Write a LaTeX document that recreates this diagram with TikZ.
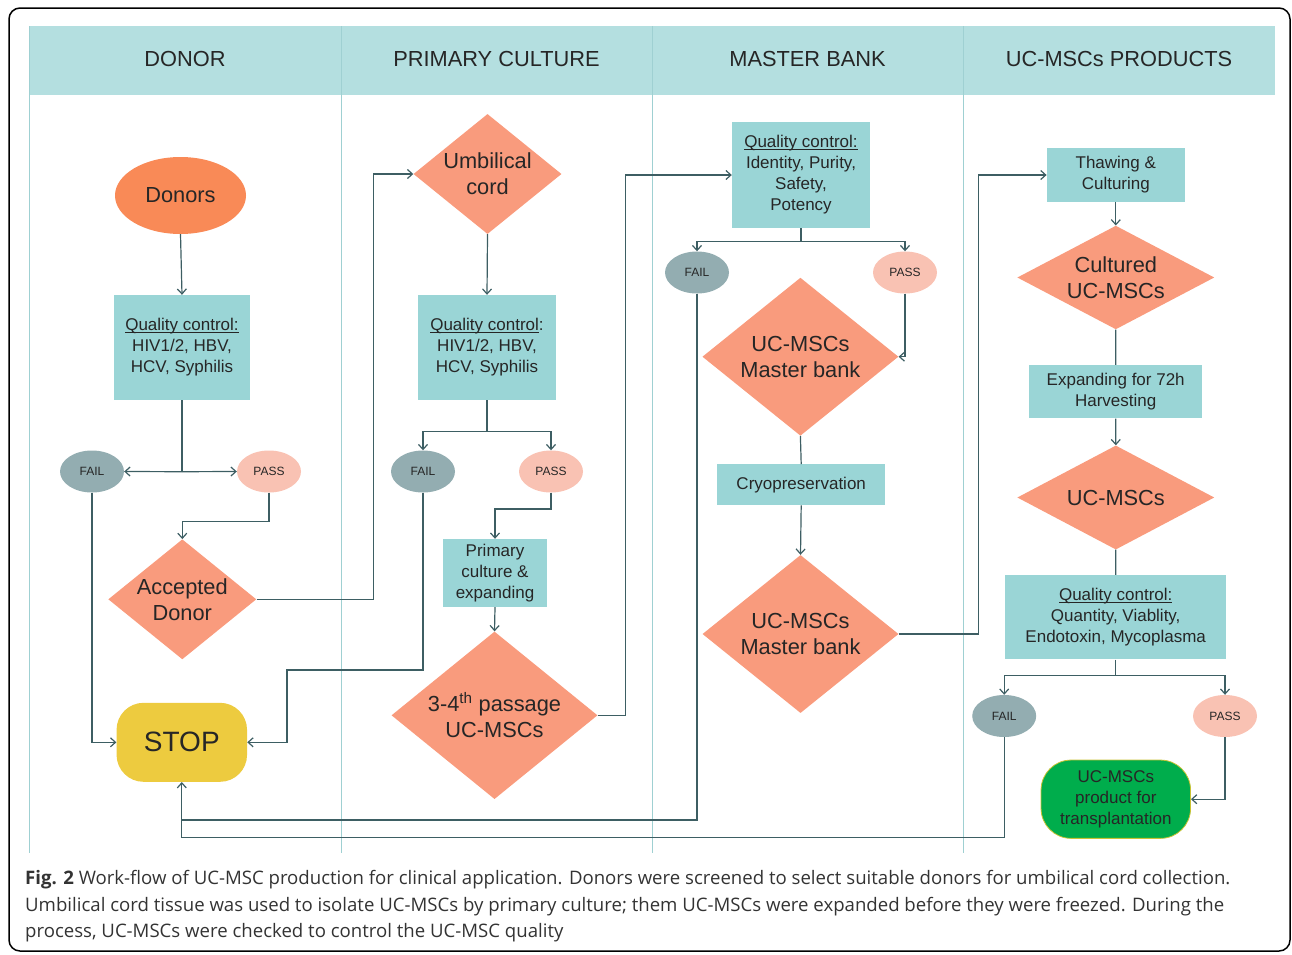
\documentclass[tikz,border=0pt]{standalone}
\usepackage{fontspec}
\setmainfont{Liberation Sans}
\newfontfamily\capfont{Open Sans}
\usetikzlibrary{shapes.geometric,arrows.meta}
\definecolor{hdrc}{HTML}{B4DFE0}
\definecolor{boxc}{HTML}{9AD5D6}
\definecolor{diac}{HTML}{F99B7D}
\definecolor{donc}{HTML}{F98A57}
\definecolor{failc}{HTML}{93ADB1}
\definecolor{passc}{HTML}{F9C2B3}
\definecolor{stopc}{HTML}{EDCB3F}
\definecolor{prodc}{HTML}{00AD4C}
\definecolor{prodb}{HTML}{C9C233}
\definecolor{lc}{HTML}{3D5E63}
\definecolor{colc}{HTML}{9FD0D2}
\definecolor{txt}{HTML}{262626}
\definecolor{captxt}{HTML}{333333}
\newcommand\ulc[1]{\setbox0\hbox{#1}\rlap{\rule[-2.3pt]{\wd0}{0.9pt}}\box0}
\tikzset{
  conn/.style={draw=lc, line width=1.2pt},
  arr/.style={conn, -{Straight Barb[length=5pt,width=9pt]}},
  box/.style={rectangle, fill=boxc, inner sep=0pt, align=center, text=txt, font=\fontsize{17}{21}\selectfont},
  dia/.style={diamond, fill=diac, inner sep=0pt},
  dtext/.style={align=center, text=txt, font=\fontsize{21.8}{26}\selectfont},
  failn/.style={ellipse, fill=failc, minimum width=64pt, minimum height=42pt, inner sep=0pt, text=txt, font=\fontsize{12}{12}\selectfont},
  passn/.style={ellipse, fill=passc, minimum width=64pt, minimum height=42pt, inner sep=0pt, text=txt, font=\fontsize{12}{12}\selectfont},
  hdr/.style={text=txt, font=\fontsize{21.8}{26}\selectfont},
  colline/.style={draw=colc, line width=0.9pt}
}
\begin{document}
\begin{tikzpicture}[x=1pt,y=-1pt]
\useasboundingbox (0,0) rectangle (1292,954);
% frame
\draw[black, line width=1.5pt, rounded corners=11pt] (9,8) rectangle (1290,951);
% header band and lanes
\fill[hdrc] (29,26) rectangle (1275,95);
\foreach \xx in {29,341,652,963} \draw[colline] (\xx,26) -- (\xx,853);
\node[hdr] (h1) at (185,59) {DONOR};
\node[hdr] (h2) at (496.5,59) {PRIMARY CULTURE};
\node[hdr] (h3) at (807.5,59) {MASTER BANK};
\node[hdr] (h4) at (1119,59) {UC-MSCs PRODUCTS};

% column 1
\node[ellipse, fill=donc, minimum width=131pt, minimum height=77pt, inner sep=0pt, text=txt, font=\fontsize{21.8}{26}\selectfont] (donors) at (180.5,195.5) {Donors};
\node[box, minimum width=136pt, minimum height=105pt] (qc1) at (182,347.5) {\ulc{Quality control:}\\HIV1/2, HBV,\\HCV, Syphilis};
\node[failn] (fail1) at (92,471.5) {FAIL};
\node[passn] (pass1) at (269,471.5) {PASS};
\node[dia, minimum width=148pt, minimum height=120pt] (acc) at (182.3,599.3) {};
\node[dtext] (acct) at (acc.center) {Accepted\\Donor};
\node[rectangle, rounded corners=27pt, fill=stopc, minimum width=130.5pt, minimum height=79pt, inner sep=0pt, text=txt, font=\fontsize{28}{30}\selectfont] (stop) at (181.8,742.3) {STOP};

% column 2
\node[dia, minimum width=148pt, minimum height=120pt] (umb) at (487.5,174) {};
\node[dtext] (umbt) at (umb.center) {Umbilical\\cord};
\node[box, minimum width=138pt, minimum height=105pt] (qc2) at (487,347.5) {\ulc{Quality control}:\\HIV1/2, HBV,\\HCV, Syphilis};
\node[failn] (fail2) at (423,471.5) {FAIL};
\node[passn] (pass2) at (551,471.5) {PASS};
\node[box, minimum width=104pt, minimum height=68pt] (prim) at (495,573) {Primary\\culture \&\\expanding};
\node[dia, minimum width=206pt, minimum height=167.5pt] (p34) at (494.5,715.3) {};
\node[dtext] (p34t) at (p34.center) {3-4\textsuperscript{th} passage\\UC-MSCs};

% column 3
\node[box, minimum width=138pt, minimum height=106pt] (qc3) at (801,175) {\ulc{Quality control:}\\Identity, Purity,\\Safety,\\Potency};
\node[failn] (fail3) at (697,272.5) {FAIL};
\node[passn] (pass3) at (905,272.5) {PASS};
\node[dia, minimum width=196pt, minimum height=158pt] (mb1) at (800.4,356.7) {};
\node[dtext] (mb1t) at (mb1.center) {UC-MSCs\\Master bank};
\node[box, minimum width=167.7pt, minimum height=40.7pt] (cryo) at (801.2,484.7) {Cryopreservation};
\node[dia, minimum width=196pt, minimum height=158pt] (mb2) at (800.5,634) {};
\node[dtext] (mb2t) at (mb2.center) {UC-MSCs\\Master bank};

% column 4
\node[box, minimum width=138pt, minimum height=53.4pt] (thaw) at (1115.8,175) {Thawing \&\\Culturing};
\node[dia, minimum width=197pt, minimum height=103.6pt] (cult) at (1115.8,277.5) {};
\node[dtext] (cultt) at (cult.center) {Cultured\\UC-MSCs};
\node[box, minimum width=173.3pt, minimum height=53.3pt] (exp) at (1115.7,391.7) {Expanding for 72h\\Harvesting};
\node[dia, minimum width=197pt, minimum height=104pt] (ucm) at (1115.8,497.5) {};
\node[dtext] (ucmt) at (ucm.center) {UC-MSCs};
\node[box, minimum width=220.6pt, minimum height=84.3pt] (qc4) at (1115.7,617.2) {\ulc{Quality control:}\\Quantity, Viablity,\\Endotoxin, Mycoplasma};
\node[failn] (fail4) at (1004.2,716) {FAIL};
\node[passn] (pass4) at (1225,716) {PASS};
\node[rectangle, rounded corners=30pt, fill=prodc, draw=prodb, line width=0.8pt, minimum width=149.5pt, minimum height=78.3pt, inner sep=0pt, align=center, text=txt, font=\fontsize{17}{21}\selectfont] (prod) at (1115.8,799.2) {UC-MSCs\\product for\\transplantation};

% helper coordinates
\coordinate (ch1) at (373.3,0);
\coordinate (ch2) at (287,670);
\coordinate (ch3) at (625.8,0);
\coordinate (ch4) at (978.8,0);
\coordinate (s1) at (182,471.7);
\coordinate (s2) at (487,431.7);
\coordinate (s3) at (801,241.7);
\coordinate (s4) at (1115.7,675.7);
\coordinate (b1) at (181.8,820);
\coordinate (b2) at (181.8,837.7);

% connectors column 1
\draw[arr] (donors.south) -- (qc1.north);
\draw[conn] (qc1.south) -- (s1);
\draw[arr] (s1) -- (fail1.east);
\draw[arr] (s1) -- (pass1.west);
\draw[arr] (pass1.south) -- ++(0,28.5) -| (acc.north);
\draw[arr] (acc.east) -- (acc.east -| ch1) |- (umb.west);
\draw[arr] (fail1.south) |- (stop.west);
\draw[arr] (fail2.south) |- (ch2) |- (stop.east);

% column 2
\draw[arr] (umb.south) -- (qc2.north);
\draw[conn] (qc2.south) -- (s2);
\draw[arr] (s2) -| (fail2.north);
\draw[arr] (s2) -| (pass2.north);
\draw[arr] (pass2.south) -- ++(0,16.2) -| (prim.north);
\draw[arr] (prim.south) -- (p34.north);
\draw[arr] (p34.east) -- (p34.east -| ch3) |- (qc3.west);

% column 3
\draw[conn] (qc3.south) -- (s3);
\draw[arr] (s3) -| (fail3.north);
\draw[arr] (s3) -| (pass3.north);
\draw[arr] (pass3.south) |- (mb1.east);
\draw[conn] (mb1.south) -- (cryo.north);
\draw[arr] (cryo.south) -- (mb2.north);
\draw[arr] (mb2.east) -- (mb2.east -| ch4) |- (thaw.west);

% column 4
\draw[arr] (thaw.south) -- (cult.north);
\draw[conn] (cult.south) -- (exp.north);
\draw[arr] (exp.south) -- (ucm.north);
\draw[conn] (ucm.south) -- (qc4.north);
\draw[conn] (qc4.south) -- (s4);
\draw[arr] (s4) -| (fail4.north);
\draw[arr] (s4) -| (pass4.north);
\draw[arr] (pass4.south) |- (prod.east);

% return lines to STOP
\draw[conn] (fail3.south) |- (b1);
\draw[arr] (fail4.south) |- (b2) -- (stop.south);

% caption
\node[anchor=base west, align=left, inner sep=0pt, text=captxt, font=\capfont\fontsize{18.6}{26.3}\selectfont] (cap) at (25,937.5) {\textbf{Fig. 2} Work-flow of UC-MSC production for clinical application. Donors were screened to select suitable donors for umbilical cord collection.\\
Umbilical cord tissue was used to isolate UC-MSCs by primary culture; them UC-MSCs were expanded before they were freezed. During the\\
process, UC-MSCs were checked to control the UC-MSC quality};
\end{tikzpicture}
\end{document}
